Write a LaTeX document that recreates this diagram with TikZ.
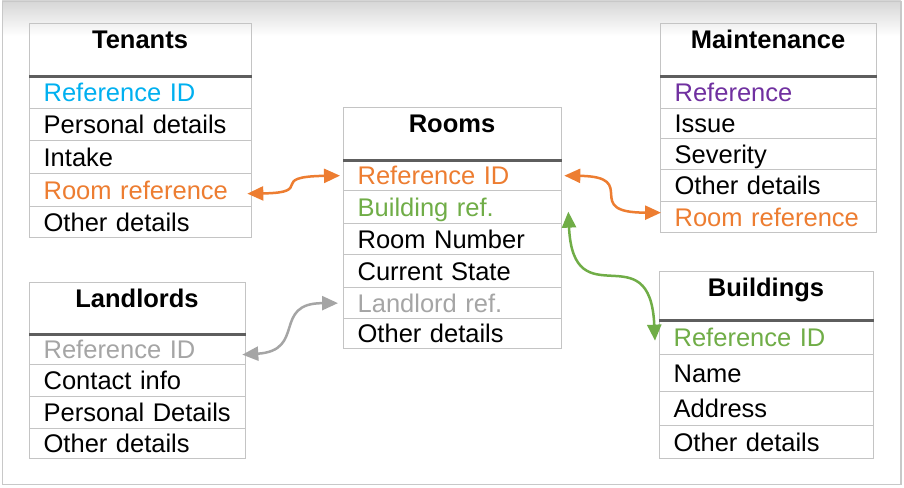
\documentclass[tikz,border=0pt]{standalone}
\usepackage{fontspec}
\setmainfont{Liberation Sans}
\usetikzlibrary{arrows.meta}
\definecolor{cyanT}{HTML}{00B0F0}
\definecolor{orangeT}{HTML}{ED7D31}
\definecolor{purpleT}{HTML}{7030A0}
\definecolor{greenT}{HTML}{70AD47}
\definecolor{greyT}{HTML}{A5A5A5}
\definecolor{cellB}{HTML}{C4C4C4}
\definecolor{darkB}{HTML}{5E5E5E}
\definecolor{frameB}{HTML}{C8C8C8}
\tikzset{
  cell/.style={draw=cellB, line width=1.3pt, anchor=north west, inner xsep=14pt, inner ysep=0pt,
    text height=18.3pt, text depth=0pt, align=left, font=\fontsize{25.5}{30}\selectfont},
  hbox/.style={draw=cellB, line width=1.3pt, anchor=north west, inner sep=0pt},
  ttl/.style={anchor=base, inner sep=0pt, font=\fontsize{25.5}{30}\selectfont\bfseries},
  darkline/.style={draw=darkB, line width=3pt},
  conn/.style={line width=2.5pt, {Triangle[length=16pt,width=14pt]}-{Triangle[length=16pt,width=14pt]}}
}
% name, x, ytop, textwidth, height, color, text
\newcommand\erow[7]{\node[cell, text width=#4pt, minimum height=#5pt, text=#6] (#1) at (#2,#3) {#7};}
% name, x, ytop, width, height, title
\newcommand\ehead[6]{%
  \node[hbox, minimum width=#4pt, minimum height=#5pt] (#1) at (#2,#3) {};
  \node[ttl] (#1t) at ({#2+#4/2},{#3+25.5}) {#6};
  \draw[darkline] (#1.south west) -- (#1.south east);}
\begin{document}
\begin{tikzpicture}[x=1pt,y=-1pt]
\useasboundingbox (0,0) rectangle (904,487);
\fill[white] (0,0) rectangle (904,487);
\shade[top color=black!16, bottom color=white] (2,1) rectangle (901,36);
\draw[frameB, line width=1.2pt] (2.5,1.5) rectangle (901,484.5);

% Tenants
\erow{tId}{29}{75}{194}{33}{cyanT}{Reference ID}
\erow{tPers}{29}{108}{194}{32}{black}{Personal details}
\erow{tInt}{29}{140}{194}{33}{black}{Intake}
\erow{tRoom}{29}{173}{194}{33}{orangeT}{Room reference}
\erow{tOth}{29}{206}{194}{31}{black}{Other details}
\ehead{tH}{29}{23}{222}{52}{Tenants}

% Rooms
\erow{rRef}{343}{159}{190}{31}{orangeT}{Reference ID}
\erow{rBld}{343}{190}{190}{33}{greenT}{Building ref.}
\erow{rNum}{343}{223}{190}{31}{black}{Room Number}
\erow{rState}{343}{254}{190}{33}{black}{Current State}
\erow{rLl}{343}{287}{190}{31}{greyT}{Landlord ref.}
\erow{rOth}{343}{318}{190}{30}{black}{Other details}
\ehead{rH}{343}{107}{218}{52}{Rooms}

% Maintenance
\erow{mRef}{660}{75}{188}{33}{purpleT}{Reference}
\erow{mIss}{660}{108}{188}{30}{black}{Issue}
\erow{mSev}{660}{138}{188}{31}{black}{Severity}
\erow{mOth}{660}{169}{188}{32}{black}{Other details}
\erow{mRoom}{660}{201}{188}{31}{orangeT}{Room reference}
\ehead{mH}{660}{23}{216}{52}{Maintenance}

% Buildings
\erow{bRef}{659}{319}{186}{35}{greenT}{Reference ID}
\erow{bName}{659}{354}{186}{37}{black}{Name}
\erow{bAddr}{659}{391}{186}{34}{black}{Address}
\erow{bOth}{659}{425}{186}{33}{black}{Other details}
\ehead{bH}{659}{271}{214}{48}{Buildings}

% Landlords
\erow{lRef}{29}{333}{188}{31}{greyT}{Reference ID}
\erow{lCont}{29}{364}{188}{32}{black}{Contact info}
\erow{lPers}{29}{396}{188}{32}{black}{Personal Details}
\erow{lOth}{29}{428}{188}{30}{black}{Other details}
\ehead{lH}{29}{282}{216}{51}{Landlords}

% connectors
\draw[conn, orangeT] ([xshift=-5pt,yshift=-3.5pt]tRoom.east) .. controls +(69,-1) and +(-74,1) .. ([xshift=-3pt,yshift=-0.5pt]rRef.west);
\draw[conn, orangeT] ([xshift=2pt,yshift=-0.5pt]rRef.east) .. controls +(77,1) and +(-81,0) .. ([xshift=1pt,yshift=4.5pt]mRoom.west);
\draw[conn, greenT] ([xshift=6pt,yshift=-4.5pt]rBld.east) .. controls +(5,109) and +(-5,-110) .. ([xshift=-4pt,yshift=-3.5pt]bRef.west);
\draw[conn, greyT] ([xshift=-4pt,yshift=-5.5pt]lRef.east) .. controls +(64,-4) and +(-66,0) .. ([xshift=-5pt]rLl.west);
\end{tikzpicture}
\end{document}
